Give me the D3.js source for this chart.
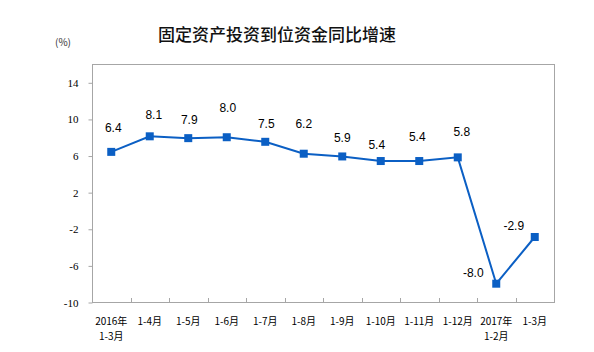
<!DOCTYPE html>
<html>
<head>
<meta charset="utf-8">
<script src="https://cdn.jsdelivr.net/npm/d3@7"></script>
<style>
  body { margin: 0; background: #fff; }
  svg { display: block; }
</style>
</head>
<body>
<svg id="chart" width="594" height="352"></svg>
<script>
// data
var periods = ["2016年|1-3月", "1-4月", "1-5月", "1-6月", "1-7月", "1-8月", "1-9月", "1-10月", "1-11月", "1-12月", "2017年|1-2月", "1-3月"];
var growth = [6.4, 8.1, 7.9, 8.0, 7.5, 6.2, 5.9, 5.4, 5.4, 5.8, -8.0, -2.9];
var yTicks = [-10, -6, -2, 2, 6, 10, 14];

// label placement, relative to each point (dx, dy)
var labelDx = [2, 4, 1, 1, 1, 0, 0, -4, -2, 4, -23, -21];
var labelDy = [-20, -17, -14, -25, -14, -26, -14, -12, -20, -21, -7, -7];

var lineColor = "#0b5fc4";
var frameColor = "#a6a6a6";

var svg = d3.select("#chart");
var plotLeft = 92, plotRight = 554, plotTop = 64, plotBottom = 302;

var x = d3.scaleBand()
    .domain(periods)
    .range([plotLeft, plotRight]);

var y = d3.scaleLinear()
    .domain([-10, 16])
    .range([plotBottom, plotTop]);

// title
svg.append("text")
    .attr("x", 277)
    .attr("y", 41)
    .attr("text-anchor", "middle")
    .attr("font-family", "'Noto Sans CJK SC', sans-serif")
    .attr("font-size", "17px")
    .attr("font-weight", "500")
    .attr("fill", "#111")
    .text("固定资产投资到位资金同比增速");

svg.append("text")
    .attr("x", 55)
    .attr("y", 46)
    .attr("font-family", "'Noto Sans CJK SC', sans-serif")
    .attr("font-size", "10px")
    .attr("fill", "#333")
    .text("(%)");

// frame
svg.append("rect")
    .attr("x", plotLeft + 0.5)
    .attr("y", plotTop + 0.5)
    .attr("width", plotRight - plotLeft)
    .attr("height", plotBottom - plotTop)
    .attr("fill", "none")
    .attr("stroke", frameColor)
    .attr("stroke-width", 1);

// y axis
var yAxis = svg.append("g")
    .attr("transform", "translate(" + (plotLeft + 0.5) + ",0.5)")
    .call(d3.axisLeft(y).tickValues(yTicks).tickSize(4).tickPadding(10)
        .tickFormat(function(d) { return String(d); }));
yAxis.select(".domain").remove();
yAxis.selectAll(".tick line").attr("stroke", frameColor);
yAxis.selectAll(".tick text")
    .attr("font-family", "'Liberation Serif', 'Times New Roman', serif")
    .attr("font-size", "11px")
    .attr("fill", "#000");

// x ticks at category boundaries, pointing inward
svg.append("g")
    .selectAll("line")
    .data(periods.slice(1))
    .enter()
    .append("line")
    .attr("x1", function(d) { return Math.round(x(d)) + 0.5; })
    .attr("x2", function(d) { return Math.round(x(d)) + 0.5; })
    .attr("y1", plotBottom + 0.5)
    .attr("y2", plotBottom - 4)
    .attr("stroke", frameColor);

// x labels
var xLabels = svg.append("g")
    .selectAll("text")
    .data(periods)
    .enter()
    .append("text")
    .attr("text-anchor", "middle")
    .attr("font-family", "'Noto Sans CJK SC', sans-serif")
    .attr("font-size", "10px")
    .attr("fill", "#000");

xLabels.each(function(d) {
    var parts = d.split("|");
    var t = d3.select(this);
    var cx = x(d) + x.bandwidth() / 2;
    parts.forEach(function(p, i) {
        t.append("tspan")
            .attr("x", cx)
            .attr("y", 325 + i * 15)
            .text(p);
    });
});

// line
var line = d3.line()
    .x(function(d, i) { return x(periods[i]) + x.bandwidth() / 2; })
    .y(function(d) { return y(d); });

svg.append("path")
    .datum(growth)
    .attr("d", line)
    .attr("fill", "none")
    .attr("stroke", lineColor)
    .attr("stroke-width", 2);

// markers
svg.append("g")
    .selectAll("rect")
    .data(growth)
    .enter()
    .append("rect")
    .attr("x", function(d, i) { return x(periods[i]) + x.bandwidth() / 2 - 4; })
    .attr("y", function(d) { return y(d) - 4; })
    .attr("width", 8)
    .attr("height", 8)
    .attr("fill", lineColor);

// value labels
svg.append("g")
    .selectAll("text")
    .data(growth)
    .enter()
    .append("text")
    .attr("x", function(d, i) { return x(periods[i]) + x.bandwidth() / 2 + labelDx[i]; })
    .attr("y", function(d, i) { return y(d) + labelDy[i]; })
    .attr("text-anchor", "middle")
    .attr("font-family", "'Liberation Sans', Arial, sans-serif")
    .attr("font-size", "12px")
    .attr("fill", "#000")
    .text(function(d) { return d.toFixed(1); });
</script>
</body>
</html>
